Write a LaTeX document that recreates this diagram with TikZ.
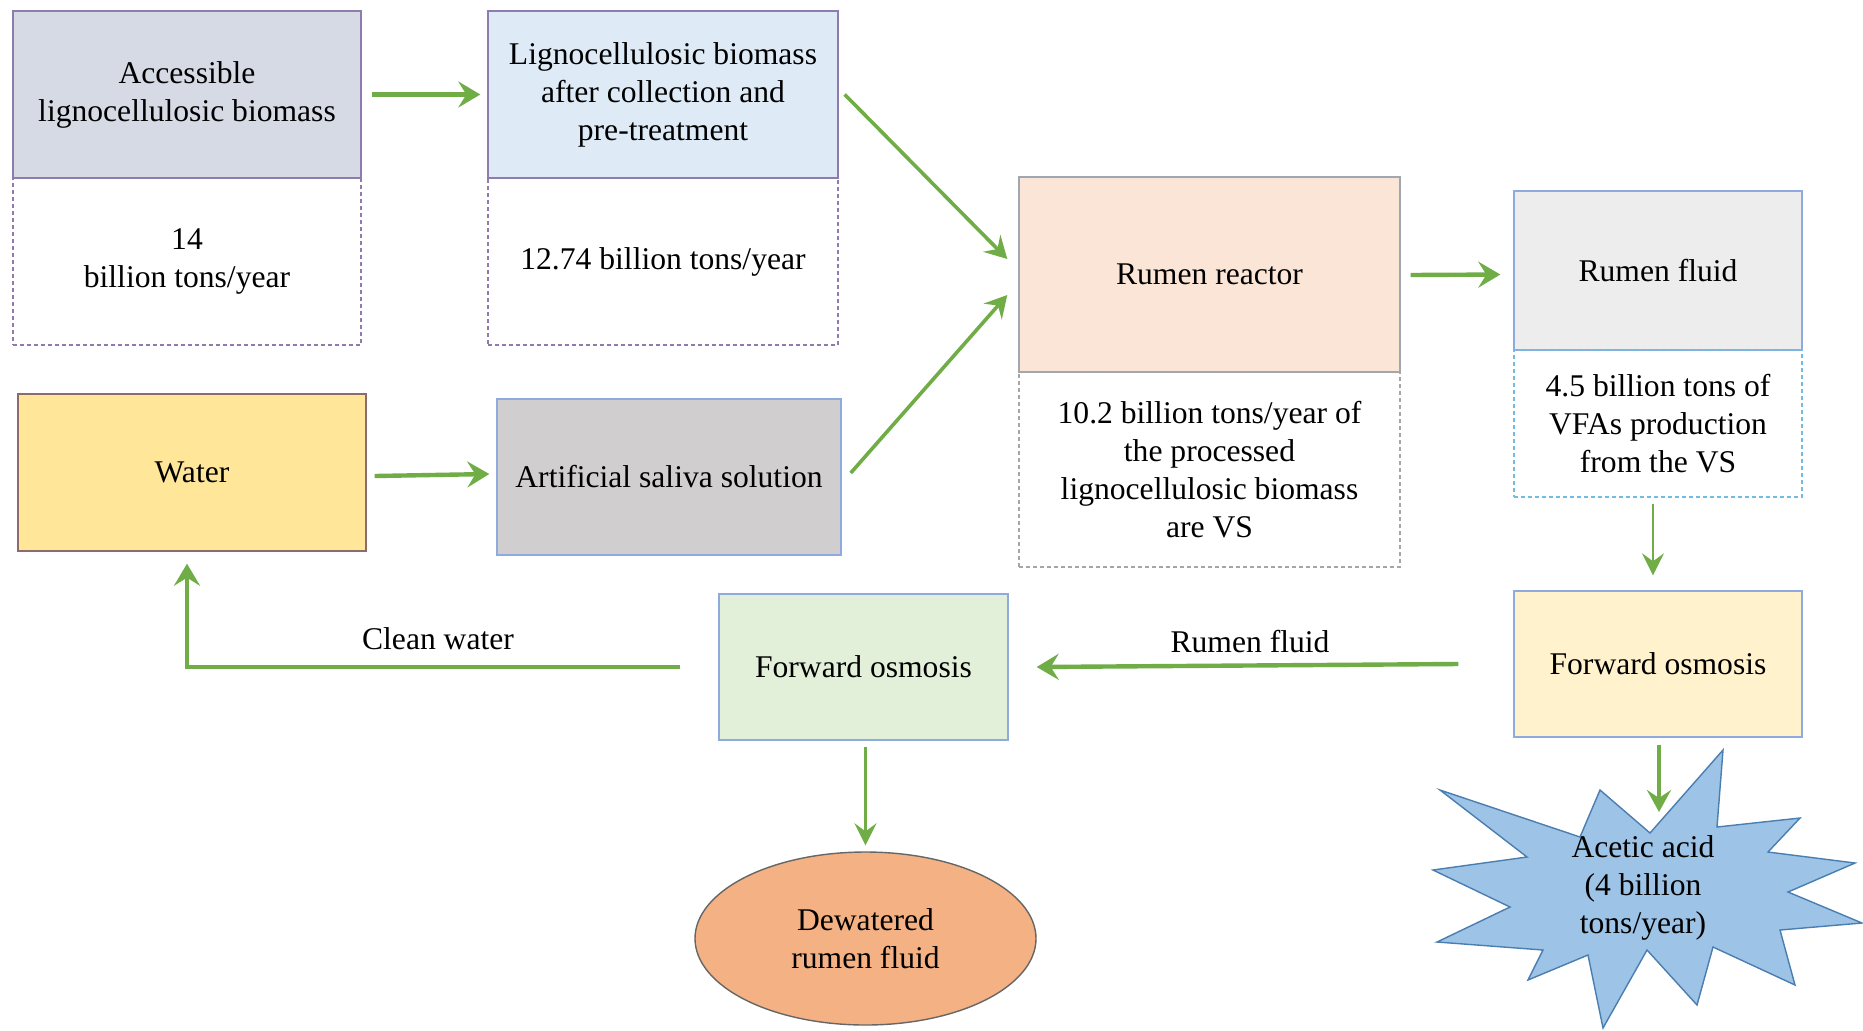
\documentclass[tikz,border=0pt]{standalone}
\usepackage{fontspec}
\setmainfont{Liberation Serif}
\usetikzlibrary{arrows.meta,calc,shapes.geometric}
\definecolor{agreen}{HTML}{70AD47}
\definecolor{fillA}{HTML}{D6DAE5}
\definecolor{fillB}{HTML}{DEEBF7}
\definecolor{fillR}{HTML}{FBE5D6}
\definecolor{fillRF}{HTML}{EDEDED}
\definecolor{fillW}{HTML}{FFE699}
\definecolor{fillS}{HTML}{D0CECE}
\definecolor{fillFM}{HTML}{E2F0D9}
\definecolor{fillFR}{HTML}{FFF2CC}
\definecolor{fillE}{HTML}{F4B183}
\definecolor{fillStar}{HTML}{9DC3E6}
\definecolor{purpleb}{HTML}{8E7CAE}
\definecolor{blueb}{HTML}{8FAADC}
\definecolor{grayb}{HTML}{A6A6A6}
\definecolor{starb}{HTML}{4A7EB0}
\definecolor{brownb}{HTML}{8C6B6B}
\tikzset{
  txt/.style={font=\fontsize{15.8pt}{19pt}\selectfont, align=center, inner sep=0pt},
  box/.style={txt, rectangle, line width=0.7pt},
  dbox/.style={txt, rectangle, line width=0.7pt, dash pattern=on 2pt off 1.5pt},
  flowthick/.style={draw=agreen, line width=2.2pt, -{Stealth[length=11pt,width=13pt,inset=4pt]}},
  flowmid/.style={draw=agreen, line width=1.8pt, -{Stealth[length=11pt,width=12pt,inset=4pt]}},
  flowthin/.style={draw=agreen, line width=1.4pt, -{Stealth[length=11pt,width=11pt,inset=4pt]}}
}
\begin{document}
\begin{tikzpicture}[x=0.5pt,y=-0.5pt]
\path[use as bounding box, fill=white] (0,0) rectangle (1863,1030);

% top row
\node[box, fill=fillA, draw=purpleb, minimum width=174pt, minimum height=83.5pt] (accA) at (187,94.5) {Accessible\\lignocellulosic biomass};
\node[dbox, draw=purpleb, minimum width=174pt, minimum height=83.5pt] (accAd) at (187,261.5) {14\\billion tons/year};

\node[box, fill=fillB, draw=purpleb, minimum width=175pt, minimum height=83.5pt] (ligB) at (663,94.5) {Lignocellulosic biomass\\after collection and\\pre-treatment};
\node[dbox, draw=purpleb, minimum width=175pt, minimum height=83.5pt] (ligBd) at (663,261.5) {12.74 billion tons/year};

\node[box, fill=fillR, draw=grayb!80!blueb, minimum width=190.5pt, minimum height=97.5pt] (rumen) at (1209.5,274.5) {Rumen reactor};
\node[dbox, draw=grayb, minimum width=190.5pt, minimum height=97.5pt] (rumend) at (1209.5,469.5) {10.2 billion tons/year of\\the processed\\lignocellulosic biomass\\are VS};

\node[box, fill=fillRF, draw=blueb, minimum width=144pt, minimum height=79.5pt] (rf) at (1658,270.5) {Rumen fluid};
\node[dbox, draw=blueb!80!cyan, minimum width=144pt, minimum height=73.5pt] (rfd) at (1658,423.5) {4.5 billion tons of\\VFAs production\\from the VS};

% middle row
\node[box, fill=fillW, draw=brownb, minimum width=174pt, minimum height=78.5pt] (water) at (192,472.5) {Water};
\node[box, fill=fillS, draw=blueb, minimum width=172pt, minimum height=78pt] (artif) at (669,477) {Artificial saliva solution};

% lower row
\node[box, fill=fillFM, draw=blueb, minimum width=144.5pt, minimum height=73pt] (foM) at (863.5,667) {Forward osmosis};
\node[box, fill=fillFR, draw=blueb, minimum width=144pt, minimum height=73pt] (foR) at (1658,664) {Forward osmosis};

\node[txt, ellipse, fill=fillE, draw=black!60, line width=0.7pt, minimum width=170.5pt, minimum height=86.5pt] (dew) at (865.5,938.5) {Dewatered\\rumen fluid};

% starburst
\path[fill=fillStar, draw=starb, line width=0.7pt]
 (1723,750) -- (1717,827) -- (1800,818) -- (1768,852) -- (1855,863) -- (1788,892)
 -- (1862,923) -- (1780,930) -- (1795,985) -- (1713,947) -- (1697,1005) -- (1647,950)
 -- (1603,1028) -- (1588,955) -- (1528,980) -- (1543,950) -- (1437,942) -- (1510,907)
 -- (1433,870) -- (1527,857) -- (1440,790) -- (1580,837) -- (1600,790) -- (1650,833) -- cycle;
\node[txt] (acetic) at (1643,888) {Acetic acid\\(4 billion\\tons/year)};
\coordinate (startop) at (1659,812);

% labels
\node[txt] (lblclean) at (438,639) {Clean water};
\node[txt] (lblrf) at (1250,642) {Rumen fluid};

% connectors
\draw[flowthick] ($(accA.east)+(10,0)$) -- ($(ligB.west)+(-7,0)$);
\draw[flowmid] ($(ligB.east)+(6,0)$) -- ($(rumen.west)+(-11,-15.5)$);
\draw[flowmid] ($(artif.east)+(9,-4)$) -- ($(rumen.west)+(-11,20.5)$);
\draw[flowthick] ($(water.east)+(8,3.5)$) -- ($(artif.west)+(-7,-3)$);
\draw[flowthick] ($(rumen.east)+(10,0.5)$) -- ($(rf.west)+(-13,4)$);
\draw[flowthin] ($(rfd.south)+(-5,6)$) -- ($(foR.north)+(-5,-15)$);
\draw[flowthick] ($(foR.west)+(-55,0)$) -- ($(foM.east)+(28,0)$);
\draw[flowthick] ($(foM.west)+(-38,0)$) -| ($(water.south)+(-5,12)$);
\draw[flowthin] ($(foM.south)+(2,6)$) -- ($(dew.north)+(0,-6)$);
\draw[flowmid] ($(foR.south)+(1,7)$) -- (startop);
\end{tikzpicture}
\end{document}
